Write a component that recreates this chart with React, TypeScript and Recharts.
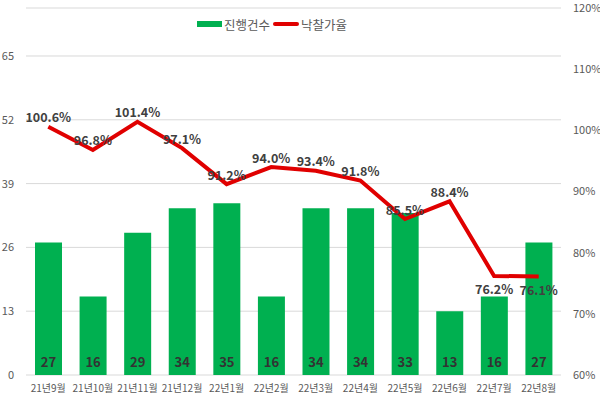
import React from 'react';
import { ComposedChart, Bar, Line, XAxis, YAxis, CartesianGrid, LabelList } from 'recharts';

const categories = ['21년9월', '21년10월', '21년11월', '21년12월', '22년1월', '22년2월', '22년3월', '22년4월', '22년5월', '22년6월', '22년7월', '22년8월'];
const counts = [27, 16, 29, 34, 35, 16, 34, 34, 33, 13, 16, 27];
const rates = [100.6, 96.8, 101.4, 97.1, 91.2, 94.0, 93.4, 91.8, 85.5, 88.4, 76.2, 76.1];
const leftTicks = [0, 13, 26, 39, 52, 65];
const rightTicks = [60, 70, 80, 90, 100, 110, 120];

const data = categories.map((c, i) => ({ name: c, count: counts[i], rate: rates[i] }));

const FONT = '"Noto Sans CJK KR", "Noto Sans", sans-serif';
const GREEN = '#00B050';
const RED = '#E00000';

const BarLabel = (props: any) => {
  const { x, y, width, height, value } = props;
  return (
    <text x={x + width / 2} y={y + height - 14} textAnchor="middle" dominantBaseline="central"
      fontFamily={FONT} fontSize={13} fontWeight={700} fill="#333333">{value}</text>
  );
};

const LineLabel = (props: any) => {
  const { x, y, value } = props;
  const below = value < 80;
  return (
    <text x={x} y={below ? y + 13 : y - 10} textAnchor="middle" dominantBaseline="central"
      fontFamily={FONT} fontSize={12.5} fontWeight={700} fill="#404040">{value.toFixed(1)}%</text>
  );
};

export default function App() {
  return (
    <div style={{ position: 'absolute', left: 0, top: 0, width: 600, height: 399, background: '#fff' }}>
      <ComposedChart width={600} height={399} data={data} margin={{ top: 8, right: 0, bottom: 0, left: 0 }}>
        <CartesianGrid yAxisId="left" vertical={false} stroke="#d9d9d9" />
        <XAxis dataKey="name" axisLine={false} tickLine={false} tickSize={0} tickMargin={10} height={24}
          interval={0} tick={{ fontFamily: FONT, fontSize: 10, fill: '#595959' }} />
        <YAxis yAxisId="left" domain={[0, 74.78]} ticks={leftTicks} interval={0} width={26}
          axisLine={false} tickLine={false} tickSize={0} tickMargin={12}
          tick={{ fontFamily: FONT, fontSize: 11, fill: '#595959' }} />
        <YAxis yAxisId="right" orientation="right" domain={[60, 120]} ticks={rightTicks} interval={0} width={39}
          axisLine={false} tickLine={false} tickSize={0} tickMargin={12} tickFormatter={(v: number) => `${v}%`}
          tick={{ fontFamily: FONT, fontSize: 11, fill: '#595959', textAnchor: 'start' }} />
        <Bar yAxisId="left" dataKey="count" fill={GREEN} barSize={27} isAnimationActive={false}>
          <LabelList dataKey="count" content={BarLabel} />
        </Bar>
        <Line yAxisId="right" dataKey="rate" stroke={RED} strokeWidth={4} dot={false} isAnimationActive={false}>
          <LabelList dataKey="rate" content={LineLabel} />
        </Line>
      </ComposedChart>
      <div style={{ position: 'absolute', top: 15, left: 197, display: 'flex', alignItems: 'center',
        fontFamily: FONT, fontSize: 12.5, color: '#595959', whiteSpace: 'nowrap', height: 18 }}>
        <span style={{ display: 'inline-block', width: 25, height: 6, background: GREEN }} />
        <span style={{ marginLeft: 2 }}>진행건수</span>
        <span style={{ display: 'inline-block', width: 26, height: 4, background: RED, marginLeft: 3, borderRadius: 2 }} />
        <span style={{ marginLeft: 2 }}>낙찰가율</span>
      </div>
    </div>
  );
}
